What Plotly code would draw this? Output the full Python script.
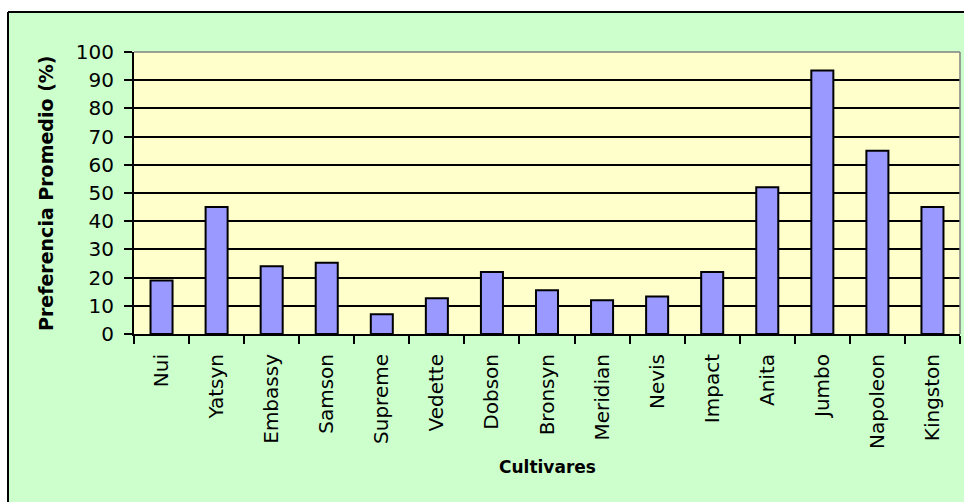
import plotly.graph_objects as go

# Preferencia promedio por cultivar
cultivares = ["Nui", "Yatsyn", "Embassy", "Samson", "Supreme", "Vedette", "Dobson",
              "Bronsyn", "Meridian", "Nevis", "Impact", "Anita", "Jumbo", "Napoleon", "Kingston"]
preferencia = [19, 45, 24, 25.3, 7, 12.7, 22, 15.5, 12, 13.3, 22, 52, 93.4, 65, 45]
y_ticks = list(range(0, 101, 10))

W, H = 964, 502
L, T, R, B = 134, 52, 4, 168
PW, PH = W - L - R, H - T - B


def px(x):
    return (x - L) / PW


def py(y):
    return (H - B - y) / PH


FONT = "DejaVu Sans"

fig = go.Figure()
fig.add_trace(go.Bar(
    x=cultivares, y=preferencia,
    marker=dict(color="#9999FF", line=dict(color="black", width=2)),
    hoverinfo="x+y",
))

fig.update_layout(
    width=W, height=H,
    margin=dict(l=L, r=R, t=T, b=B, pad=0),
    paper_bgcolor="#CCFFCC",
    plot_bgcolor="#FFFFCC",
    bargap=0.6,
    showlegend=False,
    font=dict(family=FONT, color="black", size=20),
    xaxis=dict(
        type="category", tickangle=-90, tickson="boundaries",
        ticks="outside", ticklen=8, tickwidth=2, tickcolor="black",
        showline=True, linecolor="black", linewidth=2,
        showgrid=False, ticklabelstandoff=10,
        tickfont=dict(family=FONT, size=20),
    ),
    yaxis=dict(
        range=[0, 100], tickvals=y_ticks,
        ticks="outside", ticklen=8, tickwidth=2, tickcolor="black",
        showline=True, linecolor="black", linewidth=2,
        showgrid=True, gridcolor="black", gridwidth=1.6,
        zeroline=False, ticklabelstandoff=6,
        tickfont=dict(family=FONT, size=20),
    ),
    annotations=[
        dict(text="Preferencia Promedio (%)", xref="paper", yref="paper",
             x=px(46), y=0.5, xanchor="center", yanchor="middle", textangle=-90,
             showarrow=False, font=dict(family=FONT, size=19, color="black", weight="bold")),
        dict(text="Cultivares", xref="paper", yref="paper",
             x=0.5, y=py(467), xanchor="center", yanchor="middle",
             showarrow=False, font=dict(family=FONT, size=17, color="black", weight="bold")),
    ],
    shapes=[
        # white margin above and to the left of the chart area
        dict(type="rect", xref="paper", yref="paper", x0=px(0), x1=px(W), y0=py(12), y1=py(0),
             fillcolor="white", line=dict(width=0), layer="above"),
        dict(type="rect", xref="paper", yref="paper", x0=px(0), x1=px(8), y0=py(H), y1=py(12),
             fillcolor="white", line=dict(width=0), layer="above"),
        # chart area border
        dict(type="line", xref="paper", yref="paper", x0=px(8), x1=px(W), y0=py(12), y1=py(12),
             line=dict(color="black", width=2)),
        dict(type="line", xref="paper", yref="paper", x0=px(8), x1=px(8), y0=py(12), y1=py(H),
             line=dict(color="black", width=2)),
        # plot area frame (top and right)
        dict(type="line", xref="paper", yref="paper", x0=0, x1=1, y0=1, y1=1,
             line=dict(color="#808080", width=1.5)),
        dict(type="line", xref="paper", yref="paper", x0=1, x1=1, y0=0, y1=1,
             line=dict(color="#808080", width=1.5)),
    ],
)

fig.write_html("out.html")
